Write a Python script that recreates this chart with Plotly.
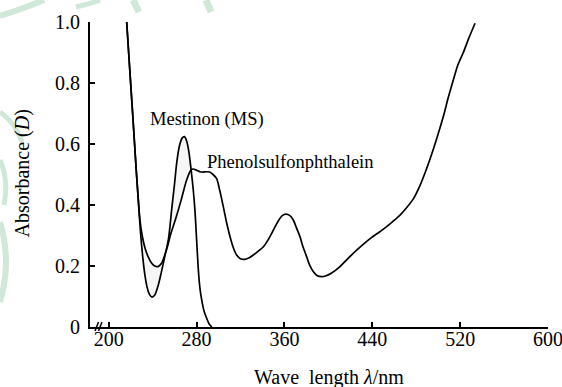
import numpy as np
import plotly.graph_objects as go

# ---- data ----
ms_x = [216.4, 219, 222, 225, 227, 229, 231, 233, 235, 237, 239.5, 242, 245, 248, 251,
        254.5, 257.5, 260, 262, 264.5, 267, 269, 271, 273, 275, 277, 278.6, 280,
        281.6, 283, 284.7, 287, 289.3, 291.5, 294]
ms_y = [1.0, 0.855, 0.69, 0.52, 0.415, 0.31, 0.23, 0.17, 0.13, 0.108, 0.098, 0.105, 0.135, 0.18, 0.23,
        0.29, 0.39, 0.47, 0.54, 0.595, 0.62, 0.624, 0.61, 0.575, 0.517, 0.45, 0.38, 0.29,
        0.19, 0.13, 0.089, 0.05, 0.028, 0.01, 0.0]

ph_x = [216.4, 219, 222, 225, 227, 228.5, 230.5, 233, 236, 239, 242, 245, 248, 251, 254,
        256.5, 261, 266, 271, 275, 277, 280, 283, 286, 289, 292, 295, 298.2, 301, 304.4,
        307.5, 310.5, 313.5, 316.5, 320, 324.2, 328, 331.7, 336, 340.9, 345, 350, 354, 358,
        361.5, 365, 368.1, 371, 374.2, 377, 380.3, 383, 386.4, 390, 393.9, 398, 403, 410.6,
        418, 425.8, 432, 439.5, 446, 453.1, 459, 465.3, 471, 477.4, 483, 488, 493, 498,
        504.7, 509, 513.8, 518, 522.9, 528, 533.6]
ph_y = [1.0, 0.855, 0.69, 0.52, 0.415, 0.35, 0.3, 0.26, 0.23, 0.21, 0.2, 0.198, 0.208, 0.235, 0.27,
        0.305, 0.355, 0.416, 0.482, 0.515, 0.518, 0.514, 0.509, 0.508, 0.509, 0.508, 0.5, 0.487, 0.45, 0.394,
        0.34, 0.296, 0.26, 0.236, 0.224, 0.222, 0.227, 0.236, 0.248, 0.263, 0.285, 0.318, 0.345, 0.365,
        0.37, 0.365, 0.351, 0.325, 0.296, 0.262, 0.23, 0.203, 0.181, 0.168, 0.165, 0.168, 0.177, 0.198,
        0.225, 0.252, 0.272, 0.294, 0.31, 0.329, 0.347, 0.367, 0.39, 0.42, 0.46, 0.505, 0.555, 0.61,
        0.69, 0.75, 0.81, 0.86, 0.9, 0.948, 0.996]

x_ticks = [200, 280, 360, 440, 520, 600]
y_ticks = [0, 0.2, 0.4, 0.6, 0.8, 1.0]
y_tick_text = ["0", "0.2", "0.4", "0.6", "0.8", "1.0"]

label_ms = "Mestinon (MS)"
label_ph = "Phenolsulfonphthalein"

FONT = "Liberation Serif, Times New Roman, serif"

# plot area geometry in pixels (for decorations only)
L, R, T, B = 90, 14, 22, 60
W, H = 562, 387
PW, PH = W - L - R, H - T - B


def px2paper(px, py):
    return (px - L) / PW, (H - B - py) / PH


fig = go.Figure()

# very light grey fill between the two curves where they diverge
grid = np.linspace(227, 275.5, 80)
a = np.interp(grid, ms_x, ms_y)
b = np.interp(grid, ph_x, ph_y)
up = np.maximum(a, b)
lo = np.minimum(a, b)
fig.add_trace(go.Scatter(x=np.concatenate([grid, grid[::-1]]),
                         y=np.concatenate([up, lo[::-1]]),
                         fill="toself", fillcolor="#f6f6f6", mode="lines",
                         line=dict(width=0), hoverinfo="skip", showlegend=False))

fig.add_trace(go.Scatter(x=ph_x, y=ph_y, mode="lines", name=label_ph,
                         line=dict(color="black", width=1.7, shape="spline", smoothing=0.8),
                         showlegend=False))
fig.add_trace(go.Scatter(x=ms_x, y=ms_y, mode="lines", name=label_ms,
                         line=dict(color="black", width=1.7, shape="spline", smoothing=0.8),
                         showlegend=False))

axis_common = dict(showline=True, linecolor="black", linewidth=2, ticks="inside",
                   ticklen=5, tickwidth=1.5, tickcolor="black", showgrid=False,
                   zeroline=False, tickfont=dict(family=FONT, size=20, color="black"),
                   ticklabeloverflow="allow", automargin=False)

fig.update_layout(
    width=W, height=H,
    margin=dict(l=L, r=R, t=T, b=B, autoexpand=False),
    paper_bgcolor="white", plot_bgcolor="white",
    xaxis=dict(range=[183, 600], tickvals=x_ticks, ticklabelstandoff=-7, **axis_common),
    yaxis=dict(range=[0, 1.0], tickvals=y_ticks, ticktext=y_tick_text,
               ticklabelstandoff=4, **axis_common),
    showlegend=False,
)

# curve labels
fig.add_annotation(x=236.1, y=0.679, text=label_ms, showarrow=False, xanchor="left",
                   yanchor="middle", font=dict(family=FONT, size=18.5, color="black"))
fig.add_annotation(x=287.7, y=0.542, text=label_ph, showarrow=False, xanchor="left",
                   yanchor="middle", font=dict(family=FONT, size=18.5, color="black"))

# axis titles
xt = px2paper(329, 377)
fig.add_annotation(xref="paper", yref="paper", x=xt[0], y=xt[1],
                   text="Wave\u00a0 length <i>λ</i>/nm", showarrow=False,
                   xanchor="center", yanchor="middle",
                   font=dict(family=FONT, size=20, color="black"))
yt = px2paper(22, 173.5)
fig.add_annotation(xref="paper", yref="paper", x=yt[0], y=yt[1],
                   text="Absorbance (<i>D</i>)", showarrow=False, textangle=-90,
                   xanchor="center", yanchor="middle",
                   font=dict(family=FONT, size=20, color="black"))

# axis break marks
for x0 in (95, 98.5):
    p0 = px2paper(x0, 331)
    p1 = px2paper(x0 + 3.5, 322)
    fig.add_shape(type="line", xref="paper", yref="paper", x0=p0[0], y0=p0[1],
                  x1=p1[0], y1=p1[1], line=dict(color="black", width=1.5))

# faint green watermark strokes (background decoration)
def path(points, cmd):
    out = []
    for c, pts in zip(cmd, points):
        s = " ".join(f"{px2paper(*p)[0]:.4f},{px2paper(*p)[1]:.4f}" for p in pts)
        out.append(f"{c} {s}")
    return " ".join(out)

strokes = [
    ([[(0, 16)], [(25, 8), (44, 0)]], "MQ", 6),
    ([[(76, 7)], [(90, 4), (100, 0)]], "MQ", 5),
    ([[(133, 0)], [(139, 12)]], "ML", 7),
    ([[(206, 0)], [(211, 12)]], "ML", 7),
    ([[(0, 112)], [(15, 122), (22, 142)]], "MQ", 5),
    ([[(0, 160)], [(9, 180), (4, 205)]], "MQ", 5),
    ([[(0, 222)], [(12, 262), (0, 302)]], "MQ", 6),
]
for pts, cmd, w in strokes:
    fig.add_shape(type="path", xref="paper", yref="paper", path=path(pts, cmd),
                  line=dict(color="#cfe8d8", width=w), layer="below")

fig.write_html("out.html")
